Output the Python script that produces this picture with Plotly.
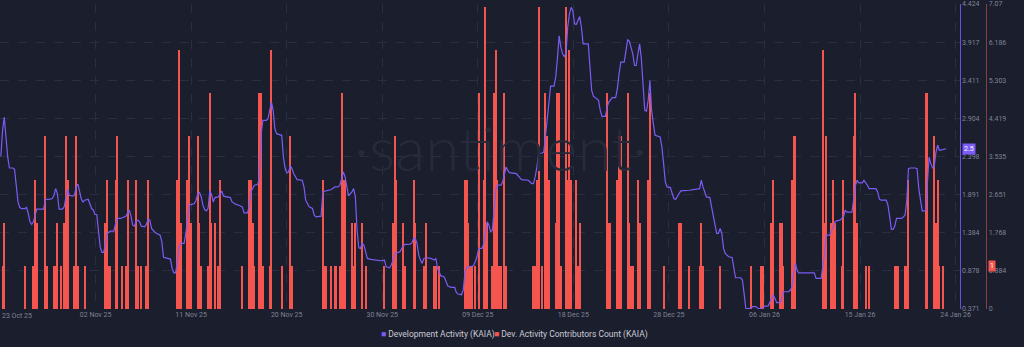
import numpy as np
import pandas as pd
import plotly.graph_objects as go

# Series are sampled every 4 hours starting at this timestamp
START = pd.Timestamp("2025-10-24 00:00")
PERIOD_HOURS = 4

# Development Activity (KAIA): (4-hour period index, value)
dev_activity_points = [
    (0, 2.40), (1, 2.745), (2, 2.92), (3, 2.656), (4, 2.39), (5, 2.245), (7, 2.245), (8, 2.228),
    (9, 1.993), (10, 1.794), (11, 1.72), (12, 1.706), (14, 1.706), (15, 1.72), (16, 1.64), (17, 1.529),
    (18, 1.494), (19, 1.529), (20, 1.618), (21, 1.697), (25, 1.697), (26, 1.826), (29, 1.83), (30, 1.839),
    (31, 1.883), (32, 1.971), (33, 1.905), (34, 1.697), (36, 1.697), (37, 1.728), (38, 1.86), (39, 1.958),
    (40, 1.883), (42, 1.87), (43, 1.883), (44, 1.993), (45, 2.029), (46, 1.927), (47, 1.83), (48, 1.794),
    (49, 1.817), (51, 1.83), (52, 1.75), (53, 1.706), (54, 1.684), (55, 1.627), (56, 1.627), (57, 1.419),
    (58, 1.197), (59, 1.123), (60, 1.123), (61, 1.22), (62, 1.375), (64, 1.405), (66, 1.405), (67, 1.508),
    (68, 1.574), (70, 1.574), (71, 1.587), (73, 1.604), (74, 1.648), (75, 1.684), (76, 1.604), (77, 1.485),
    (78, 1.472), (79, 1.542), (80, 1.551), (81, 1.529), (82, 1.472), (84, 1.462), (85, 1.498), (86, 1.565),
    (87, 1.551), (88, 1.441), (90, 1.388), (91, 1.375), (93, 1.352), (94, 1.264), (95, 1.057), (99, 1.034),
    (100, 0.911), (101, 0.852), (102, 0.852), (103, 0.977), (104, 1.197), (105, 1.242), (107, 1.242),
    (108, 1.375), (109, 1.595), (110, 1.75), (113, 1.773), (114, 1.817), (115, 1.905), (116, 1.919),
    (117, 1.86), (118, 1.75), (119, 1.693), (120, 1.675), (121, 1.706), (122, 1.94), (123, 1.896),
    (124, 1.794), (125, 1.852), (127, 1.86), (128, 1.896), (129, 1.94), (130, 1.87), (134, 1.852),
    (135, 1.794), (137, 1.764), (139, 1.75), (141, 1.728), (142, 1.648), (144, 1.648), (145, 1.728),
    (146, 1.927), (148, 2.016), (150, 2.025), (151, 2.126), (152, 2.701), (153, 2.878), (155, 2.878),
    (156, 2.9), (157, 3.01), (158, 3.12), (159, 3.01), (160, 2.767), (161, 2.701), (164, 2.679),
    (165, 2.39), (166, 2.237), (167, 2.179), (168, 2.192), (169, 2.272), (170, 2.237), (171, 2.171),
    (173, 2.091), (176, 2.082), (177, 1.993), (178, 1.817), (179, 1.781), (180, 1.728), (182, 1.706),
    (183, 1.618), (184, 1.595), (187, 1.604), (188, 1.93), (191, 1.949), (193, 1.958), (195, 1.993),
    (197, 1.993), (198, 2.016), (199, 2.126), (200, 2.192), (201, 2.126), (202, 1.993), (203, 1.874),
    (205, 1.927), (206, 1.971), (207, 1.86), (208, 1.419), (209, 1.184), (210, 1.176), (211, 1.242),
    (212, 1.22), (213, 1.131), (214, 1.043), (216, 1.03), (220, 1.012), (222, 1.012), (224, 1.021),
    (225, 0.932), (227, 0.919), (228, 0.955), (229, 1.021), (230, 1.1), (231, 1.117), (233, 1.131),
    (235, 1.21), (236, 1.229), (239, 1.233), (240, 1.25), (241, 1.309), (242, 1.309), (243, 1.242),
    (244, 1.087), (245, 1.021), (246, 0.977), (247, 1.043), (249, 1.052), (251, 1.043), (253, 1.021),
    (254, 1.043), (255, 0.911), (257, 0.809), (258, 0.809), (259, 0.791), (261, 0.676), (263, 0.659),
    (265, 0.659), (266, 0.587), (267, 0.57), (269, 0.561), (270, 0.623), (271, 0.845), (272, 0.924),
    (274, 0.932), (276, 0.945), (277, 1.0), (278, 1.065), (279, 1.176), (281, 1.176), (282, 1.242),
    (283, 1.419), (284, 1.529), (285, 1.485), (286, 1.396), (287, 1.419), (288, 1.64), (289, 1.949),
    (290, 2.016), (292, 2.016), (293, 2.059), (294, 2.171), (295, 2.258), (296, 2.214), (297, 2.184),
    (301, 2.171), (303, 2.126), (304, 2.091), (308, 2.082), (309, 2.059), (310, 2.038), (311, 2.038),
    (312, 2.126), (313, 2.258), (314, 2.436), (316, 2.444), (317, 2.457), (318, 2.656), (319, 2.92),
    (320, 3.143), (321, 3.333), (323, 3.333), (324, 3.452), (325, 3.7), (326, 4.0), (327, 3.85),
    (328, 3.762), (329, 3.726), (330, 3.762), (331, 4.115), (332, 4.293), (333, 4.38), (334, 4.336),
    (335, 4.16), (336, 4.151), (337, 4.204), (338, 4.257), (339, 4.115), (340, 3.895), (343, 3.895),
    (344, 3.63), (345, 3.275), (346, 3.2), (348, 3.165), (349, 3.143), (350, 3.01), (351, 2.931),
    (353, 2.931), (354, 3.054), (355, 3.12), (357, 3.179), (359, 3.179), (360, 3.298), (361, 3.497),
    (362, 3.651), (364, 3.651), (365, 3.783), (366, 3.948), (367, 3.93), (368, 3.85), (369, 3.762),
    (370, 3.607), (371, 3.607), (372, 3.762), (373, 3.895), (374, 3.696), (375, 3.319), (376, 3.01),
    (377, 3.001), (378, 3.143), (379, 3.408), (380, 3.01), (381, 2.834), (382, 2.679), (385, 2.656),
    (386, 2.524), (387, 2.303), (388, 2.059), (389, 1.993), (391, 1.985), (392, 1.905), (393, 1.839),
    (394, 1.826), (395, 1.86), (397, 1.94), (402, 1.949), (406, 1.958), (408, 1.971), (409, 2.082),
    (410, 1.993), (412, 1.86), (414, 1.852), (415, 1.728), (416, 1.595), (418, 1.375), (419, 1.375),
    (420, 1.441), (421, 1.375), (422, 1.176), (423, 1.109), (425, 1.065), (427, 1.056), (428, 0.888),
    (429, 0.786), (432, 0.786), (433, 0.756), (434, 0.579), (435, 0.375), (437, 0.375), (439, 0.402),
    (441, 0.402), (442, 0.38), (443, 0.375), (444, 0.375), (445, 0.388), (446, 0.41), (448, 0.41),
    (450, 0.5), (451, 0.557), (452, 0.513), (453, 0.455), (455, 0.455), (456, 0.513), (457, 0.6),
    (460, 0.6), (461, 0.623), (462, 0.667), (463, 0.845), (464, 0.977), (465, 0.879), (466, 0.852),
    (475, 0.852), (476, 0.778), (479, 0.778), (480, 0.932), (481, 1.109), (482, 1.352), (484, 1.352),
    (486, 1.462), (487, 1.529), (488, 1.542), (490, 1.551), (492, 1.595), (493, 1.684), (494, 1.657),
    (497, 1.657), (498, 1.839), (499, 2.016), (500, 2.082), (501, 2.047), (503, 2.047), (504, 2.082),
    (506, 2.016), (507, 1.971), (511, 1.971), (512, 1.927), (513, 1.83), (514, 1.817), (517, 1.817),
    (518, 1.75), (519, 1.595), (520, 1.428), (521, 1.428), (522, 1.472), (523, 1.574), (526, 1.574),
    (528, 1.618), (529, 1.817), (530, 2.237), (531, 2.245), (534, 2.245), (535, 2.237), (536, 1.971),
    (537, 1.817), (538, 1.675), (540, 1.675), (541, 1.971), (542, 2.39), (543, 2.303), (544, 2.245),
    (545, 2.258), (546, 2.45), (547, 2.55), (548, 2.48), (550, 2.489), (552, 2.5),
]

# Dev. Activity Contributors Count (KAIA): (4-hour period index, count); empty periods are 0
contributors_points = [
    (1, 1), (2, 2), (14, 1), (19, 1), (20, 3), (21, 2), (26, 4), (27, 1), (31, 1), (32, 1), (33, 2),
    (35, 1), (37, 2), (38, 4), (39, 3), (43, 1), (44, 4), (45, 1), (49, 1), (61, 2), (62, 3), (63, 1),
    (64, 1), (67, 3), (68, 4), (71, 1), (73, 1), (74, 3), (79, 3), (80, 1), (82, 1), (85, 1), (86, 3),
    (103, 3), (104, 6), (105, 2), (109, 3), (110, 4), (111, 2), (115, 4), (116, 2), (117, 1), (121, 1),
    (122, 5), (123, 2), (125, 2), (127, 1), (128, 3), (141, 1), (145, 3), (146, 3), (147, 2), (148, 1),
    (151, 5), (152, 5), (153, 1), (157, 1), (158, 6), (164, 1), (169, 4), (170, 1), (188, 3), (189, 1),
    (190, 1), (193, 1), (195, 1), (196, 1), (198, 1), (199, 5), (200, 3), (201, 3), (205, 2), (206, 1),
    (207, 2), (211, 2), (213, 1), (224, 1), (229, 2), (230, 4), (231, 3), (235, 2), (236, 1), (241, 3),
    (242, 2), (247, 1), (248, 2), (253, 1), (254, 1), (256, 1), (271, 3), (272, 3), (273, 2), (274, 1),
    (275, 1), (277, 1), (279, 5), (282, 3), (283, 7), (284, 2), (287, 1), (288, 5), (289, 6), (290, 3),
    (291, 1), (292, 1), (294, 5), (295, 1), (311, 1), (312, 1), (313, 3), (314, 7), (316, 1), (318, 5),
    (319, 4), (320, 3), (324, 2), (325, 5), (326, 5), (327, 1), (330, 7), (331, 3), (332, 6), (333, 3),
    (336, 3), (337, 1), (338, 2), (354, 5), (355, 2), (356, 2), (360, 3), (361, 4), (362, 4), (366, 5),
    (367, 2), (368, 1), (369, 1), (372, 3), (373, 2), (378, 3), (379, 5), (387, 1), (396, 2), (397, 2),
    (402, 1), (408, 1), (409, 2), (410, 1), (420, 1), (438, 1), (444, 1), (445, 1), (450, 2), (451, 3),
    (455, 2), (456, 2), (457, 1), (462, 3), (463, 4), (464, 4), (480, 6), (481, 2), (482, 4), (485, 2),
    (486, 3), (487, 2), (491, 1), (492, 3), (498, 4), (499, 5), (500, 2), (505, 1), (507, 1), (522, 1),
    (523, 1), (524, 1), (528, 1), (529, 1), (530, 3), (540, 5), (541, 5), (545, 4), (546, 2), (547, 3),
    (548, 1), (550, 1),
]

x_tick_labels = ["23 Oct 25", "02 Nov 25", "11 Nov 25", "20 Nov 25", "30 Nov 25", "09 Dec 25",
                 "18 Dec 25", "28 Dec 25", "06 Jan 26", "15 Jan 26", "24 Jan 26"]
dev_tick_values = [0.371, 0.878, 1.384, 1.891, 2.398, 2.904, 3.411, 3.917, 4.424]
contrib_tick_values = [0, 0.884, 1.768, 2.651, 3.535, 4.419, 5.303, 6.186, 7.07]

DEV_NAME = "Development Activity (KAIA)"
CONTRIB_NAME = "Dev. Activity Contributors Count (KAIA)"

BG = "#1b1e2c"
PURPLE = "#7b5cf5"
RED = "#f4564f"
GRID = "#2a2e3f"
TICK_FONT = dict(family="Roboto, sans-serif", size=7, color="#7f8397")


def to_time(periods):
    return START + pd.to_timedelta(np.asarray(periods) * PERIOD_HOURS, unit="h")


dev_p, dev_v = zip(*dev_activity_points)
con_p, con_v = zip(*contributors_points)
dev_t = to_time(dev_p)
con_t = to_time(con_p)

# visible window and evenly spaced date ticks
x_start = pd.Timestamp("2025-10-23 22:00")
x_end = x_start + pd.Timedelta(hours=2241.3)
tick_step = pd.Timedelta(days=9.3)
tick_times = [x_start + tick_step * k for k in range(len(x_tick_labels))]

W, H = 1024, 347
X_DOMAIN_END = 970 / W

fig = go.Figure()

# bars on the base y axis, the activity line on the overlaying one so it is drawn on top
fig.add_trace(go.Bar(
    x=con_t, y=con_v, name=CONTRIB_NAME, yaxis="y",
    marker=dict(color=RED, line=dict(width=0)),
    width=PERIOD_HOURS * 3600 * 1000 * 0.62,
    showlegend=False,
))

fig.add_trace(go.Scatter(
    x=dev_t, y=dev_v, name=DEV_NAME, mode="lines", yaxis="y2",
    line=dict(color=PURPLE, width=1.2), showlegend=False,
))

annotations = [
    # watermark
    dict(text="·santiment·", xref="paper", yref="paper", x=0.494, y=0.53,
         showarrow=False,
         font=dict(family="Lato, sans-serif", size=62, color="#262a3a", weight=300)),
    # first date label sits against the left edge
    dict(text=x_tick_labels[0], xref="paper", yref="paper", x=0, y=0, xanchor="left",
         yanchor="top", yshift=-1, showarrow=False, font=TICK_FONT),
    # latest-value badges on the two axes
    dict(text="2.5", xref="paper", yref="y2", x=972 / W, y=dev_v[-1], xanchor="left",
         showarrow=False, bgcolor=PURPLE, borderpad=1,
         font=dict(family="Roboto, sans-serif", size=7, color="#ffffff")),
    dict(text="1", xref="paper", yref="y", x=999 / W, y=con_v[-1], xanchor="left",
         showarrow=False, bgcolor=RED, borderpad=1,
         font=dict(family="Roboto, sans-serif", size=7, color="#ffffff")),
    # legend
    dict(text=f"<span style='color:{PURPLE}'>■</span> {DEV_NAME}", xref="paper", yref="paper",
         x=383 / W, y=-25 / 305, xanchor="left", yanchor="middle", showarrow=False,
         font=dict(family="Roboto, sans-serif", size=8.5, color="#c9cbd6")),
    dict(text=f"<span style='color:{RED}'>■</span> {CONTRIB_NAME}", xref="paper", yref="paper",
         x=497 / W, y=-25 / 305, xanchor="left", yanchor="middle", showarrow=False,
         font=dict(family="Roboto, sans-serif", size=8.5, color="#c9cbd6")),
]

fig.update_layout(
    width=W, height=H, autosize=False,
    paper_bgcolor=BG, plot_bgcolor=BG,
    margin=dict(l=0, r=0, t=4, b=38),
    bargap=0,
    showlegend=False,
    xaxis=dict(
        type="date", domain=[0, X_DOMAIN_END], range=[x_start, x_end],
        tickvals=tick_times[1:], ticktext=x_tick_labels[1:], tickfont=TICK_FONT,
        showgrid=True, gridcolor=GRID, griddash="dash", gridwidth=1,
        zeroline=False, showline=False, ticks="", fixedrange=True,
    ),
    yaxis=dict(
        side="right", anchor="free", position=997 / W,
        range=[contrib_tick_values[0], contrib_tick_values[-1]],
        tickvals=contrib_tick_values, ticktext=[f"{v:g}" for v in contrib_tick_values],
        tickfont=TICK_FONT, showgrid=False, zeroline=False,
        showline=True, linecolor="#8e3d3f", linewidth=1, ticks="",
    ),
    yaxis2=dict(
        side="right", overlaying="y", anchor="x",
        range=[dev_tick_values[0], dev_tick_values[-1]],
        tickvals=dev_tick_values, ticktext=[f"{v:.3f}" for v in dev_tick_values],
        tickfont=TICK_FONT, showgrid=True, gridcolor=GRID, griddash="dash",
        zeroline=False, showline=True, linecolor="#6a4fe0", linewidth=1, ticks="",
    ),
    annotations=annotations,
)

fig.write_html("out.html")
